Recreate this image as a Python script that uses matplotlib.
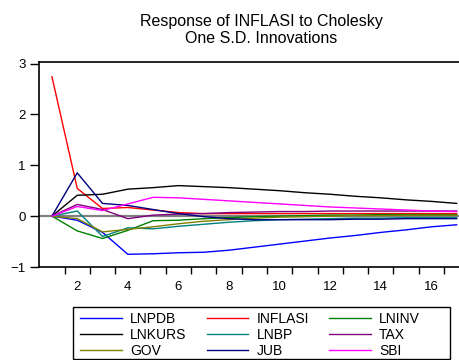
import numpy as np
import matplotlib
matplotlib.use("Agg")
import matplotlib.pyplot as plt
from matplotlib.patches import Rectangle

plt.rcParams['font.family'] = ['Liberation Sans', 'DejaVu Sans']

periods = np.arange(1, 18)

lnpdb = [0, -0.08, -0.32, -0.75, -0.74, -0.72, -0.71, -0.67, -0.61, -0.55,
         -0.49, -0.43, -0.38, -0.32, -0.27, -0.21, -0.17]
inflasi = [2.74, 0.545, 0.15, 0.17, 0.12, 0.07, 0.05, 0.05, 0.05, 0.05,
           0.05, 0.05, 0.05, 0.05, 0.05, 0.05, 0.05]
lninv = [0, -0.29, -0.44, -0.28, -0.09, -0.08, -0.05, -0.03, -0.01, 0.0,
         0.01, 0.02, 0.02, 0.03, 0.03, 0.03, 0.03]
lnkurs = [0, 0.41, 0.43, 0.53, 0.56, 0.60, 0.58, 0.56, 0.53, 0.50,
          0.46, 0.43, 0.39, 0.36, 0.32, 0.29, 0.25]
lnbp = [0, 0.10, -0.40, -0.23, -0.25, -0.20, -0.16, -0.12, -0.09, -0.07,
        -0.06, -0.05, -0.04, -0.04, -0.03, -0.03, -0.03]
tax = [0, 0.23, 0.13, -0.05, 0.02, 0.04, 0.05, 0.07, 0.08, 0.09,
       0.09, 0.10, 0.10, 0.10, 0.10, 0.10, 0.10]
gov = [0, -0.05, -0.31, -0.26, -0.21, -0.15, -0.10, -0.07, -0.04, -0.02,
       -0.01, 0.0, 0.01, 0.01, 0.02, 0.02, 0.02]
jub = [0, 0.85, 0.25, 0.21, 0.13, 0.05, -0.01, -0.05, -0.07, -0.07,
       -0.07, -0.07, -0.06, -0.06, -0.05, -0.05, -0.05]
sbi = [0, 0.19, 0.11, 0.24, 0.37, 0.36, 0.33, 0.30, 0.27, 0.24,
       0.21, 0.18, 0.16, 0.14, 0.12, 0.10, 0.09]

names = ['LNPDB', 'INFLASI', 'LNINV', 'LNKURS', 'LNBP', 'TAX', 'GOV', 'JUB', 'SBI']
series = [lnpdb, inflasi, lninv, lnkurs, lnbp, tax, gov, jub, sbi]
colors = ['#0000ff', '#ff0000', '#008000', '#000000', '#008080',
          '#800080', '#808000', '#000080', '#ff00ff']

fig = plt.figure(figsize=(4.6, 3.6), dpi=100)
ax = fig.add_axes([39.3 / 460, 93 / 360, 430 / 460, 205 / 360])

ax.axhline(0, color='#808080', lw=1.6, zorder=1)
lines = {}
for name, vals, c in zip(names, series, colors):
    lines[name], = ax.plot(periods, vals, color=c, lw=1.0, zorder=2)

ax.set_xlim(0.5, 17.5)
ax.set_ylim(-1, 3.03)
ax.set_yticks([-1, 0, 1, 2, 3])
ax.set_xticks(np.arange(2, 17, 2))
ax.set_xticks(np.arange(1.5, 17, 1), minor=True)
ax.tick_params(axis='x', which='major', length=0, pad=10, labelsize=9.5)
ax.tick_params(axis='x', which='minor', length=5, direction='out', width=1)
ax.tick_params(axis='y', length=6.5, direction='out', width=1, pad=3.5, labelsize=9.5)
for s in ax.spines.values():
    s.set_linewidth(1.2)

fig.suptitle("Response of INFLASI to Cholesky\nOne S.D. Innovations",
             x=261 / 460, y=1 - 14 / 360, fontsize=11.5, linespacing=1.15)

# legend fills row by row in the reference, matplotlib fills columns
order = ['LNPDB', 'LNKURS', 'GOV', 'INFLASI', 'LNBP', 'JUB', 'LNINV', 'TAX', 'SBI']
leg = fig.legend([lines[n] for n in order], order, ncol=3,
                 loc='upper left', bbox_to_anchor=(80 / 460, 1 - 312 / 360),
                 fontsize=10, frameon=False, handlelength=3.0,
                 handletextpad=0.6, columnspacing=1.45, labelspacing=0.15,
                 borderpad=0.0, borderaxespad=0)
fig.add_artist(Rectangle((73 / 460, 1 - 359 / 360), 377 / 460, 52 / 360,
                         transform=fig.transFigure, fill=False,
                         edgecolor='black', lw=1.0))

fig.savefig('out.png', dpi=100)
